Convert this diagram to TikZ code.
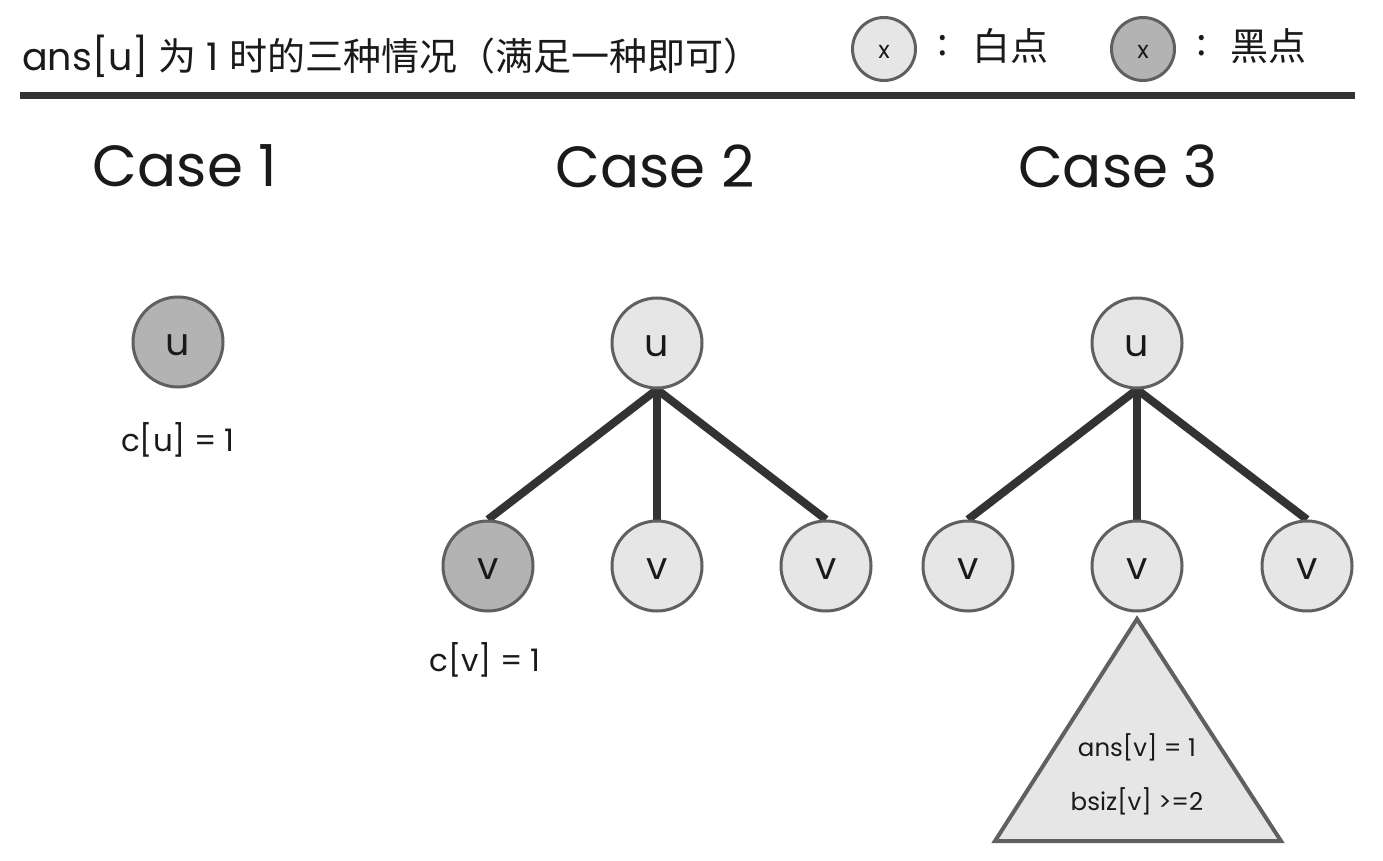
\documentclass[tikz,border=0pt]{standalone}
\usepackage{fontspec}
\setmainfont{Poppins}
\newfontfamily\cjk{Noto Sans CJK SC}
\usetikzlibrary{backgrounds}
\definecolor{lightfill}{HTML}{E6E6E6}
\definecolor{darkfill}{HTML}{B3B3B3}
\definecolor{rim}{HTML}{606060}
\definecolor{ink}{HTML}{1A1A1A}
\definecolor{bar}{HTML}{333333}
\tikzset{
  whitept/.style={circle, draw=rim, line width=3pt, fill=lightfill, minimum size=90pt, inner sep=0pt, text=ink, font=\fontsize{38}{40}\selectfont, text height=26pt, text depth=0pt},
  blackpt/.style={whitept, fill=darkfill},
  legwhite/.style={whitept, minimum size=63pt, font=\fontsize{24}{26}\selectfont, text height=19pt, text depth=0pt},
  legblack/.style={legwhite, fill=darkfill},
  edge/.style={draw=bar, line width=8pt},
  casetitle/.style={text=ink, font=\fontsize{58}{60}\selectfont},
  note/.style={text=ink, font=\fontsize{31}{33}\selectfont},
  trinote/.style={text=ink, font=\fontsize{24.5}{26}\selectfont},
  head/.style={text=ink, font=\fontsize{38}{40}\selectfont},
  legtext/.style={text=ink, font=\fontsize{38}{40}\selectfont},
}
\begin{document}
\begin{tikzpicture}[x=1pt,y=-1pt]
\useasboundingbox (0,0) rectangle (1383,861);
\begin{scope}[on background layer]
\fill[white] (0,0) rectangle (1383,861);
\end{scope}
% header
\node[head, anchor=base west, inner sep=0pt] (title) at (22,71) {ans[u] {\cjk 为} 1 {\cjk 时的三种情况（满足一种即可）}};
\draw[bar, line width=7pt] (20,96) coordinate (barL) -- (1355,96) coordinate (barR);
% legend
\node[legwhite] (lw) at (884,49) {x};
\node[legtext, inner sep=0pt] (lwc) at (943,46) {\cjk :};
\node[legtext, anchor=west, inner sep=0pt] (lwt) at (972,46) {\cjk 白点};
\node[legblack] (lb) at (1143,49) {x};
\node[legtext, inner sep=0pt] (lbc) at (1202,46) {\cjk :};
\node[legtext, anchor=west, inner sep=0pt] (lbt) at (1230,46) {\cjk 黑点};
% case titles
\node[casetitle] (t1) at (185,166) {Case 1};
\node[casetitle] (t2) at (655,166) {Case 2};
\node[casetitle] (t3) at (1118,166) {Case 3};
% case 1
\node[blackpt] (u1) at (178,342) {u};
\node[note] (c1) at (178,440) {c[u] = 1};
% case 2
\node[whitept] (u2) at (657,343) {u};
\node[blackpt] (v2a) at (488,566) {v};
\node[whitept] (v2b) at (657,566) {v};
\node[whitept] (v2c) at (826,566) {v};
\node[note] (c2) at (485,660) {c[v] = 1};
% case 3
\node[whitept] (u3) at (1137,343) {u};
\node[whitept] (v3a) at (968,566) {v};
\node[whitept] (v3b) at (1137,566) {v};
\node[whitept] (v3c) at (1307,566) {v};
\begin{scope}[on background layer]
  \draw[edge] (u2.south) -- (v2a.north);
  \draw[edge] (u2.south) -- (v2b.north);
  \draw[edge] (u2.south) -- (v2c.north);
  \draw[edge] (u3.south) -- (v3a.north);
  \draw[edge] (u3.south) -- (v3b.north);
  \draw[edge] (u3.south) -- (v3c.north);
\end{scope}
\coordinate (apex) at (1137,619);
\filldraw[fill=lightfill, draw=rim, line width=4pt, line join=miter] (apex) -- (1281,841) -- (995,841) -- cycle;
\node[trinote] (s1) at (1137,747) {ans[v] = 1};
\node[trinote] (s2) at (1137,801) {bsiz[v] >=2};
\end{tikzpicture}
\end{document}
